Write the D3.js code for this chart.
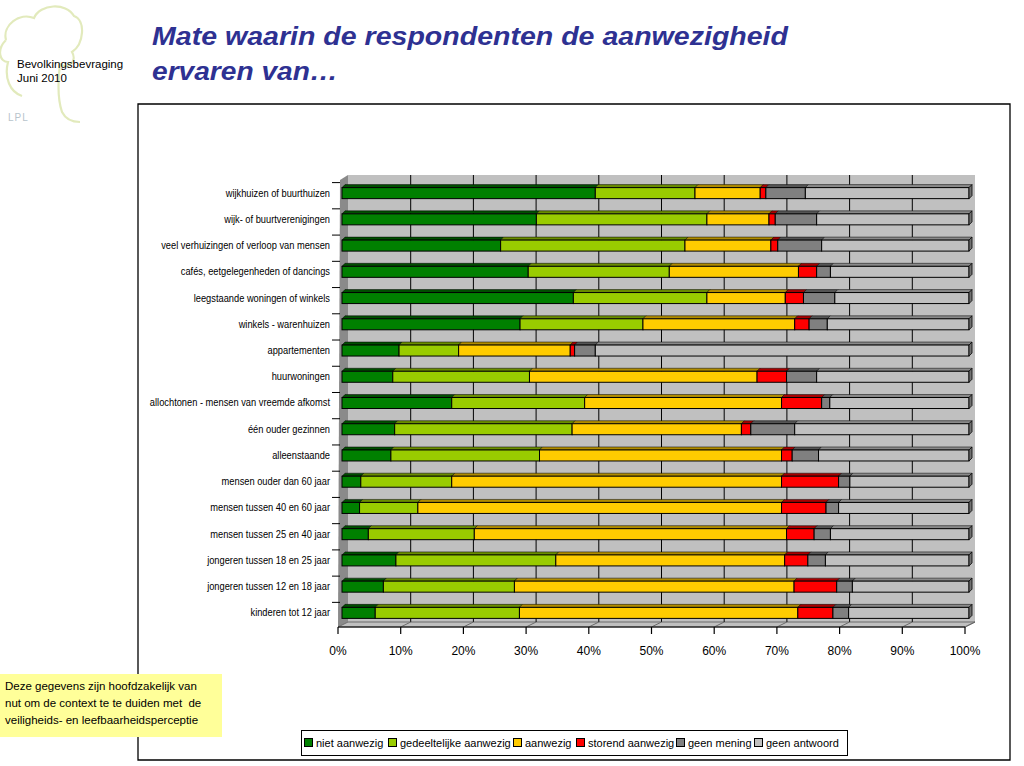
<!DOCTYPE html>
<html><head><meta charset="utf-8">
<script src="https://cdn.jsdelivr.net/npm/d3@7/dist/d3.min.js"></script>
<style>body{margin:0;background:#fff;}svg{display:block;font-family:Arial,"Liberation Sans",sans-serif;}</style>
</head><body>
<script>
const categories = ["wijkhuizen of buurthuizen","wijk- of buurtverenigingen","veel verhuizingen of verloop van mensen","cafés, eetgelegenheden of dancings","leegstaande woningen of winkels","winkels - warenhuizen","appartementen","huurwoningen","allochtonen - mensen van vreemde afkomst","één ouder gezinnen","alleenstaande","mensen ouder dan 60 jaar","mensen tussen 40 en 60 jaar","mensen tussen 25 en 40 jaar","jongeren tussen 18 en 25 jaar","jongeren tussen 12 en 18 jaar","kinderen tot 12 jaar"];
const seriesNames = ["niet aanwezig","gedeeltelijke aanwezig","aanwezig","storend aanwezig","geen mening","geen antwoord"];
const nietAanwezig = [40.4,31.0,25.3,29.7,36.9,28.4,9.1,8.1,17.5,8.4,7.8,3.0,2.8,4.2,8.6,6.6,5.3];
const gedeeltelijk = [15.9,27.2,29.4,22.5,21.3,19.6,9.5,21.8,21.2,28.3,23.7,14.5,9.3,16.9,25.5,20.9,23.0];
const aanwezig = [10.4,9.9,13.7,20.6,12.5,24.2,17.8,36.3,31.4,27.0,38.6,52.6,58.0,49.8,36.5,44.6,44.4];
const storend = [0.9,1.0,1.1,2.9,2.9,2.3,0.7,4.7,6.4,1.5,1.7,9.1,7.1,4.4,3.7,6.8,5.6];
const geenMening = [6.3,6.6,7.0,2.2,5.0,2.9,3.3,4.8,1.3,7.0,4.2,1.8,2.0,2.6,2.8,2.5,2.5];
const geenAntwoord = [26.1,24.3,23.5,22.1,21.4,22.6,59.6,24.3,22.2,27.8,24.0,19.0,20.8,22.1,22.9,18.6,19.2];
const xTicks = [0,10,20,30,40,50,60,70,80,90,100];
const colors = ["#008000","#99cc00","#ffcc00","#ff0000","#808080","#c0c0c0"];
const topColors = ["#004f00","#6a8d00","#b08c00","#a80000","#555555","#8a8a8a"];

const W=1024,H=766;
const svg=d3.select("body").append("svg").attr("width",W).attr("height",H);

// logo
svg.append("path")
  .attr("d","M6,40 C2,25 20,12 34,18 C40,4 66,2 74,16 C86,20 84,44 72,52 C78,62 66,70 60,64 C58,80 58,100 62,112 C66,120 74,122 80,122 M6,40 C-4,50 0,62 8,62 C4,78 10,92 22,96")
  .attr("fill","none").attr("stroke","#e2eabc").attr("stroke-width",2.2);
svg.append("text").attr("x",17).attr("y",68).attr("font-size",11.5).attr("fill","#000").text("Bevolkingsbevraging");
svg.append("text").attr("x",17).attr("y",82).attr("font-size",11.5).attr("fill","#000").text("Juni 2010");
svg.append("text").attr("x",8).attr("y",121).attr("font-size",10).attr("letter-spacing",1).attr("fill","#b8c4cc").text("LPL");

// title
svg.append("text").attr("x",152).attr("y",45).attr("font-size",25).attr("font-weight","bold").attr("font-style","italic").attr("fill","#2e3192")
  .attr("textLength",636).attr("lengthAdjust","spacingAndGlyphs").text("Mate waarin de respondenten de aanwezigheid");
svg.append("text").attr("x",152).attr("y",80).attr("font-size",25).attr("font-weight","bold").attr("font-style","italic").attr("fill","#2e3192")
  .attr("textLength",186).attr("lengthAdjust","spacingAndGlyphs").text("ervaren van…");

// outer frame
svg.append("path").attr("d","M138,760 L138,104 L1010,104 L1010,760 Z").attr("fill","none").attr("stroke","#000").attr("stroke-width",1.3);

// scales
const xFront=d3.scaleLinear().domain([0,100]).range([338,965]);
const xBack=d3.scaleLinear().domain([0,100]).range([348,975]);
const xBar=d3.scaleLinear().domain([0,100]).range([342,969]);
const y=d3.scaleBand().domain(categories).range([180,626]).paddingInner(0.58).paddingOuter(0.29);
const wallTop=175, wallBot=622, frontBot=627;

// back wall
svg.append("rect").attr("x",xBack(0)).attr("y",wallTop).attr("width",xBack(100)-xBack(0)).attr("height",wallBot-wallTop).attr("fill","#c0c0c0");
// left wall
svg.append("path").attr("d",`M${xFront(0)+2},${wallTop+5} L${xBack(0)},${wallTop} L${xBack(0)},${wallBot} L${xFront(0)},${frontBot} Z`).attr("fill","#8a8a8a");
// floor
svg.append("path").attr("d",`M${xFront(0)},${frontBot} L${xFront(100)},${frontBot} L${xBack(100)},${wallBot} L${xBack(0)},${wallBot} Z`).attr("fill","#c0c0c0").attr("stroke","#6a6a6a").attr("stroke-width",1);
// gridlines on wall
svg.append("g").selectAll("line").data(xTicks.slice(1,-1)).join("line")
  .attr("x1",d=>xBack(d)).attr("x2",d=>xBack(d)).attr("y1",wallTop).attr("y2",wallBot).attr("stroke","#000").attr("stroke-width",1);
// floor lines
svg.append("g").selectAll("line").data(xTicks.slice(1)).join("line")
  .attr("x1",d=>xFront(d)).attr("x2",d=>xBack(d)).attr("y1",frontBot).attr("y2",wallBot).attr("stroke","#6a6a6a").attr("stroke-width",1);

// bars
const table=categories.map((c,i)=>({cat:c,s0:nietAanwezig[i],s1:gedeeltelijk[i],s2:aanwezig[i],s3:storend[i],s4:geenMening[i],s5:geenAntwoord[i]}));
const stack=d3.stack().keys(["s0","s1","s2","s3","s4","s5"])(table);
const d=3, bw=y.bandwidth();
const gb=svg.append("g");
stack.forEach((layer,k)=>{
  layer.forEach(seg=>{
    const x0=xBar(seg[0]), x1=xBar(seg[1]), yy=y(seg.data.cat);
    gb.append("path").attr("d",`M${x0},${yy} L${x0+d},${yy-d} L${x1+d},${yy-d} L${x1},${yy} Z`)
      .attr("fill",topColors[k]).attr("stroke","#000").attr("stroke-width",0.5);
    gb.append("rect").attr("x",x0).attr("y",yy).attr("width",Math.max(0,x1-x0)).attr("height",bw)
      .attr("fill",colors[k]).attr("stroke","#000").attr("stroke-width",1);
    if(k===5){
      gb.append("path").attr("d",`M${x1},${yy} L${x1+d},${yy-d} L${x1+d},${yy+bw-d} L${x1},${yy+bw} Z`)
        .attr("fill","#707070").attr("stroke","#000").attr("stroke-width",0.8);
    }
  });
});

// category ticks & labels
svg.append("g").selectAll("line").data(categories).join("line")
  .attr("x1",332).attr("x2",340).attr("y1",c=>y(c)-5).attr("y2",c=>y(c)-5).attr("stroke","#000");
const gl=svg.append("g").attr("transform","translate(330,0) scale(0.93,1)");
gl.selectAll("text").data(categories).join("text")
  .attr("x",0).attr("y",c=>y(c)+bw/2).attr("dy","0.35em").attr("text-anchor","end")
  .attr("font-size",10).attr("fill","#000").text(c=>c);

// x axis
svg.append("line").attr("x1",xFront(0)).attr("x2",xFront(100)).attr("y1",frontBot).attr("y2",frontBot).attr("stroke","#000").attr("stroke-width",1.2);
const gx=svg.append("g");
gx.selectAll("line").data(xTicks).join("line")
  .attr("x1",v=>xFront(v)).attr("x2",v=>xFront(v)).attr("y1",frontBot).attr("y2",frontBot+7).attr("stroke","#000").attr("stroke-width",1.2);
gx.selectAll("text").data(xTicks).join("text")
  .attr("x",v=>xFront(v)).attr("y",655).attr("text-anchor","middle").attr("font-size",12).attr("fill","#000").text(v=>v+"%");

// legend
svg.append("rect").attr("x",301.5).attr("y",730.5).attr("width",546).attr("height",25).attr("fill","#fff").attr("stroke","#000").attr("stroke-width",1);
const legX=[304,388,513,576,676,754];
const lg=svg.append("g");
seriesNames.forEach((n,k)=>{
  lg.append("rect").attr("x",legX[k]+0.5).attr("y",738.5).attr("width",8).attr("height",8).attr("fill",colors[k]).attr("stroke","#000").attr("stroke-width",1);
  lg.append("text").attr("x",legX[k]+12).attr("y",747).attr("font-size",11).attr("fill","#000").text(n);
});

// yellow note
svg.append("rect").attr("x",0).attr("y",674).attr("width",222).attr("height",63).attr("fill","#ffff99");
["Deze gegevens zijn hoofdzakelijk van","nut om de context te te duiden met  de","veiligheids- en leefbaarheidsperceptie"].forEach((s,i)=>{
  svg.append("text").attr("x",5).attr("y",690+i*17).attr("font-size",11.5).attr("fill","#000").attr("xml:space","preserve").style("white-space","pre").text(s);
});
</script>
</body></html>
